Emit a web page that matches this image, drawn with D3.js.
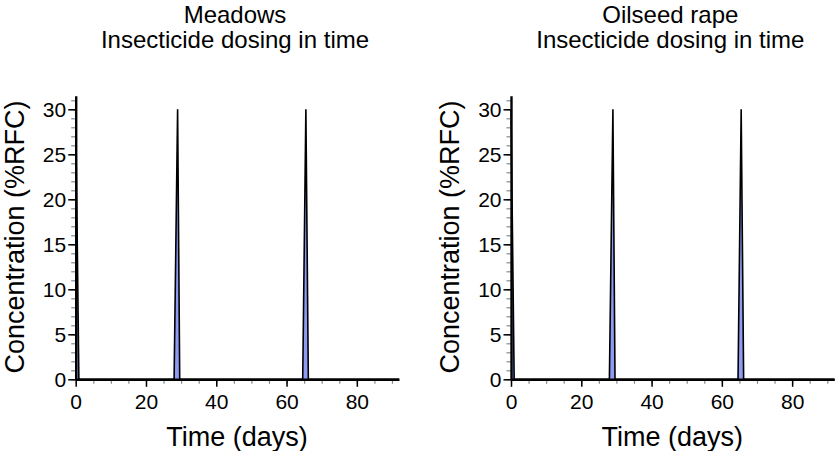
<!DOCTYPE html>
<html>
<head>
<meta charset="utf-8">
<script src="https://cdn.jsdelivr.net/npm/d3@7"></script>
<style>
  body { margin: 0; background: #fff; }
  svg { display: block; font-family: "Liberation Sans", Arial, sans-serif; }
</style>
</head>
<body>
<svg id="chart" width="836" height="451"></svg>
<script>
// ---- data ----
const panelTitles = ["Meadows", "Oilseed rape"];
const subtitle = "Insecticide dosing in time";
const meadowsTime = [0, 0.9, 28, 29, 29.6, 64.6, 65.5, 66.2, 92];
const meadowsConc = [30, 0, 0, 30, 0, 0, 30, 0, 0];
const rapeTime = [0, 0.9, 28, 29, 29.6, 64.6, 65.5, 66.2, 92];
const rapeConc = [30, 0, 0, 30, 0, 0, 30, 0, 0];
const xTicks = [0, 20, 40, 60, 80];
const yTicks = [0, 5, 10, 15, 20, 25, 30];
const xTitle = "Time (days)";
const yTitle = "Concentration (%RFC)";

const series = [
  { title: panelTitles[0], t: meadowsTime, c: meadowsConc },
  { title: panelTitles[1], t: rapeTime, c: rapeConc }
];

const svg = d3.select("#chart");
const offsets = [0, 435.3];

series.forEach((s, i) => {
  const ox = offsets[i];
  const g = svg.append("g").attr("transform", `translate(${ox},0)`);
  const x = d3.scaleLinear().domain([0, 92]).range([75.7, 399]);
  const y = d3.scaleLinear().domain([0, 31.5]).range([379.3, 95.8]);
  const data = s.t.map((t, k) => ({ t, c: s.c[k] }));

  // filled spikes + outline
  g.append("path").datum(data)
    .attr("d", d3.area().x(d => x(d.t)).y0(y(0)).y1(d => y(d.c)))
    .attr("fill", "#8d9bf2");
  g.append("path").datum(data)
    .attr("d", d3.line().x(d => x(d.t)).y(d => y(d.c)))
    .attr("fill", "none").attr("stroke", "#000").attr("stroke-width", 1.6)
    .attr("stroke-linejoin", "miter");

  // minor ticks y
  const yAxisMinor = d3.axisLeft(y).tickValues(d3.range(0, 32, 1)).tickSize(4.5).tickFormat("");
  const gym = g.append("g").attr("transform", `translate(${x(0)},0)`).call(yAxisMinor);
  gym.select(".domain").remove();
  gym.selectAll("line").attr("stroke", "#7f8c8c").attr("stroke-width", 1.2);

  // minor ticks x
  const xAxisMinor = d3.axisBottom(x).tickValues(d3.range(0, 92, 5)).tickSize(4.5).tickFormat("");
  const gxm = g.append("g").attr("transform", `translate(0,${y(0)})`).call(xAxisMinor);
  gxm.select(".domain").remove();
  gxm.selectAll("line").attr("stroke", "#7f8c8c").attr("stroke-width", 1.2);

  // major y axis
  const yAxis = d3.axisLeft(y).tickValues(yTicks).tickSize(7.5).tickPadding(2).tickSizeOuter(0);
  const gy = g.append("g").attr("transform", `translate(${x(0)},0)`).call(yAxis);
  gy.attr("font-size", 21).attr("font-family", "Liberation Sans, Arial, sans-serif");
  gy.select(".domain").attr("stroke", "#000").attr("stroke-width", 2.4);
  gy.selectAll(".tick line").attr("stroke", "#000").attr("stroke-width", 1.5);
  gy.selectAll("text").attr("fill", "#000");

  // major x axis
  const xAxis = d3.axisBottom(x).tickValues(xTicks).tickSize(7.5).tickPadding(7).tickSizeOuter(0);
  const gx = g.append("g").attr("transform", `translate(0,${y(0)})`).call(xAxis);
  gx.attr("font-size", 21).attr("font-family", "Liberation Sans, Arial, sans-serif");
  gx.select(".domain").attr("stroke", "#000").attr("stroke-width", 2.4);
  gx.selectAll(".tick line").attr("stroke", "#000").attr("stroke-width", 1.5);
  gx.selectAll("text").attr("fill", "#000");

  // titles
  const cx = 235;
  g.append("text").attr("x", cx).attr("y", 23).attr("text-anchor", "middle")
    .attr("font-size", 24).text(s.title);
  g.append("text").attr("x", cx).attr("y", 48).attr("text-anchor", "middle")
    .attr("font-size", 24).text(subtitle);

  g.append("text").attr("x", 237).attr("y", 446).attr("text-anchor", "middle")
    .attr("font-size", 27).text(xTitle);
  g.append("text").attr("transform", `translate(24,237) rotate(-90)`)
    .attr("text-anchor", "middle").attr("font-size", 27).text(yTitle);
});
</script>
</body>
</html>
